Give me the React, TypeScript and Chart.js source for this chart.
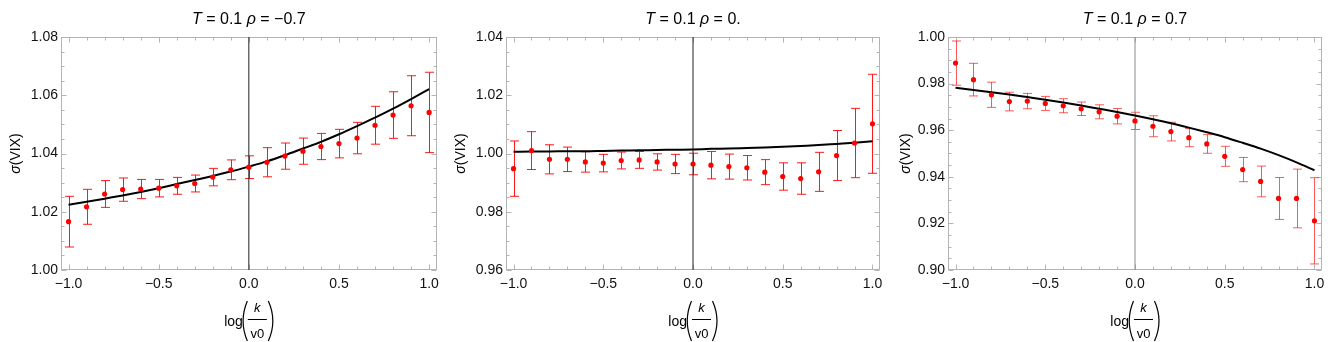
import React, { useEffect, useRef } from "react";
import { Chart, registerables } from "chart.js";

Chart.register(...registerables);

const FONT = "'Liberation Sans', Arial, sans-serif";

// ---------- data ----------
const xValues = [-1.0, -0.9, -0.8, -0.7, -0.6, -0.5, -0.4, -0.3, -0.2, -0.1, 0.0, 0.1, 0.2, 0.3, 0.4, 0.5, 0.6, 0.7, 0.8, 0.9, 1.0];
const xTickValues = [-1.0, -0.5, 0.0, 0.5, 1.0];
const xTickLabels = ["−1.0", "−0.5", "0.0", "0.5", "1.0"];

const titleT = "0.1";
const rhoLabels = ["−0.7", "0.", "0.7"];

// rho = -0.7
const sigmaNeg = [1.0166, 1.0217, 1.0261, 1.0276, 1.0278, 1.0281, 1.0289, 1.0297, 1.0319, 1.0344, 1.0353, 1.0370, 1.0391, 1.0408, 1.0424, 1.0434, 1.0453, 1.0497, 1.0532, 1.0564, 1.0541];
const errNeg = [0.0087, 0.0060, 0.0046, 0.0040, 0.0033, 0.0030, 0.0029, 0.0029, 0.0030, 0.0034, 0.0039, 0.0050, 0.0045, 0.0045, 0.0045, 0.0049, 0.0054, 0.0065, 0.0080, 0.0103, 0.0138];
const modelNeg = [1.0224, 1.0234, 1.0245, 1.0256, 1.0268, 1.0281, 1.0295, 1.0309, 1.0323, 1.0338, 1.0355, 1.0373, 1.0394, 1.0417, 1.0440, 1.0466, 1.0494, 1.0523, 1.0554, 1.0587, 1.0621];
const yTicksNeg = [1.0, 1.02, 1.04, 1.06, 1.08];

// rho = 0
const sigmaZero = [0.9948, 1.0010, 0.9980, 0.9980, 0.9971, 0.9967, 0.9976, 0.9978, 0.9971, 0.9964, 0.9964, 0.9960, 0.9955, 0.9951, 0.9936, 0.9921, 0.9914, 0.9937, 0.9993, 1.0036, 1.0102];
const errZero = [0.0095, 0.0065, 0.0050, 0.0042, 0.0035, 0.0030, 0.0029, 0.0029, 0.0028, 0.0033, 0.0037, 0.0047, 0.0043, 0.0042, 0.0043, 0.0047, 0.0054, 0.0067, 0.0086, 0.0119, 0.0170];
const modelZero = [1.0006, 1.0007, 1.0007, 1.0008, 1.0008, 1.0009, 1.0010, 1.0011, 1.0012, 1.0013, 1.0014, 1.0016, 1.0017, 1.0019, 1.0021, 1.0023, 1.0026, 1.0029, 1.0033, 1.0037, 1.0042];
const yTicksZero = [0.96, 0.98, 1.0, 1.02, 1.04];

// rho = 0.7
const sigmaPos = [0.9888, 0.9817, 0.9752, 0.9723, 0.9725, 0.9715, 0.9705, 0.9692, 0.9679, 0.9660, 0.9640, 0.9617, 0.9594, 0.9568, 0.9541, 0.9488, 0.9431, 0.9380, 0.9307, 0.9307, 0.9211];
const errPos = [0.0095, 0.0070, 0.0054, 0.0040, 0.0033, 0.0030, 0.0030, 0.0029, 0.0030, 0.0033, 0.0037, 0.0045, 0.0040, 0.0039, 0.0040, 0.0043, 0.0052, 0.0066, 0.0090, 0.0126, 0.0185];
const modelPos = [0.9782, 0.9773, 0.9763, 0.9753, 0.9742, 0.9731, 0.9719, 0.9706, 0.9692, 0.9678, 0.9663, 0.9647, 0.9630, 0.9611, 0.9591, 0.9570, 0.9546, 0.9521, 0.9493, 0.9462, 0.9428];
const yTicksPos = [0.9, 0.92, 0.94, 0.96, 0.98, 1.0];

// ---------- panel configuration ----------
type PanelCfg = {
  rho: string;
  sigma: number[];
  err: number[];
  model: number[];
  yTicks: number[];
  offset: number;
  axisWidth: number;
  padRight: number;
  errColor: string;
  vColor: string;
};

const panels: PanelCfg[] = [
  { rho: rhoLabels[0], sigma: sigmaNeg, err: errNeg, model: modelNeg, yTicks: yTicksNeg, offset: 0, axisWidth: 61, padRight: 8, errColor: "rgba(255,0,0,0.9)", vColor: "#222" },
  { rho: rhoLabels[1], sigma: sigmaZero, err: errZero, model: modelZero, yTicks: yTicksZero, offset: 445, axisWidth: 61, padRight: 10, errColor: "rgba(255,0,0,0.9)", vColor: "#222" },
  { rho: rhoLabels[2], sigma: sigmaPos, err: errPos, model: modelPos, yTicks: yTicksPos, offset: 890, axisWidth: 58, padRight: 13, errColor: "rgba(255,20,20,0.7)", vColor: "#888" },
];

const X_MIN = -1.042;
const X_MAX = 1.042;
const W = 445;
const H = 342;

function drawSegments(ctx: CanvasRenderingContext2D, segs: { t: string; it: boolean }[], size: number, cx: number, cy: number) {
  let total = 0;
  const widths = segs.map((s) => {
    ctx.font = (s.it ? "italic " : "") + size + "px " + FONT;
    const w = ctx.measureText(s.t).width;
    total += w;
    return w;
  });
  let x = cx - total / 2;
  ctx.textAlign = "left";
  ctx.textBaseline = "middle";
  segs.forEach((s, i) => {
    ctx.font = (s.it ? "italic " : "") + size + "px " + FONT;
    ctx.fillText(s.t, x, cy);
    x += widths[i];
  });
}

function makeDecor(cfg: PanelCfg) {
  return {
    id: "decor",
    beforeDatasetsDraw(chart: any) {
      const ctx = chart.ctx as CanvasRenderingContext2D;
      const xs = chart.scales.x;
      const ys = chart.scales.y;
      const { left, right, top, bottom } = chart.chartArea;
      ctx.save();
      // frame
      const L = Math.round(left) + 0.5;
      const R = Math.round(right) - 0.5;
      const T = Math.round(top) + 0.5;
      const B = Math.round(bottom) - 0.5;
      ctx.strokeStyle = "#b4b4b4";
      ctx.lineWidth = 1;
      ctx.strokeRect(L, T, R - L, B - T);
      ctx.beginPath();
      // x ticks
      for (let k = -10; k <= 10; k++) {
        const v = k / 10;
        const len = k % 5 === 0 ? 5 : 3;
        const px = Math.round(xs.getPixelForValue(v)) + 0.5;
        ctx.moveTo(px, B);
        ctx.lineTo(px, B - len);
        ctx.moveTo(px, T);
        ctx.lineTo(px, T + len);
      }
      // y ticks
      const yMin = cfg.yTicks[0];
      const yMax = cfg.yTicks[cfg.yTicks.length - 1];
      const nMinor = Math.round((yMax - yMin) / 0.005);
      for (let k = 0; k <= nMinor; k++) {
        const v = yMin + k * 0.005;
        const len = k % 4 === 0 ? 5 : 3;
        const py = Math.round(ys.getPixelForValue(v)) + 0.5;
        ctx.moveTo(L, py);
        ctx.lineTo(L + len, py);
        ctx.moveTo(R, py);
        ctx.lineTo(R - len, py);
      }
      ctx.stroke();

      // error bars
      ctx.beginPath();
      ctx.rect(left, top, right - left, bottom - top);
      ctx.clip();
      ctx.strokeStyle = cfg.errColor;
      ctx.lineWidth = 1;
      ctx.beginPath();
      xValues.forEach((xv, i) => {
        const px = Math.round(xs.getPixelForValue(xv)) + 0.5;
        const yt = ys.getPixelForValue(cfg.sigma[i] + cfg.err[i]);
        const yb = ys.getPixelForValue(cfg.sigma[i] - cfg.err[i]);
        ctx.moveTo(px, yt);
        ctx.lineTo(px, yb);
        ctx.moveTo(px - 4.5, yt);
        ctx.lineTo(px + 4.5, yt);
        ctx.moveTo(px - 4.5, yb);
        ctx.lineTo(px + 4.5, yb);
      });
      ctx.stroke();
      ctx.restore();
    },
    afterDraw(chart: any) {
      const ctx = chart.ctx as CanvasRenderingContext2D;
      const { left, right, top, bottom } = chart.chartArea;
      const cx = (left + right) / 2;
      const cy = (top + bottom) / 2;
      ctx.save();
      ctx.fillStyle = "#000";
      // title
      drawSegments(
        ctx,
        [
          { t: "T", it: true },
          { t: " = " + titleT + " ", it: false },
          { t: "ρ", it: true },
          { t: " = " + cfg.rho, it: false },
        ],
        16,
        cx,
        20
      );
      // y label
      ctx.save();
      ctx.translate(16, cy);
      ctx.rotate(-Math.PI / 2);
      drawSegments(
        ctx,
        [
          { t: "σ", it: true },
          { t: "(VIX)", it: false },
        ],
        14,
        0,
        0
      );
      ctx.restore();
      // x label: log(k / v0)
      ctx.textBaseline = "alphabetic";
      ctx.font = "14px " + FONT;
      ctx.textAlign = "right";
      ctx.fillText("log", cx - 6, 326);
      ctx.textAlign = "center";
      ctx.font = "italic 13px " + FONT;
      ctx.fillText("k", cx + 8.5, 312);
      ctx.font = "13px " + FONT;
      ctx.fillText("v0", cx + 8.5, 337.5);
      ctx.strokeStyle = "#000";
      ctx.lineWidth = 1;
      ctx.beginPath();
      ctx.moveTo(cx - 1, 319.5);
      ctx.lineTo(cx + 18, 319.5);
      ctx.stroke();
      ctx.lineWidth = 1.2;
      ctx.beginPath();
      ctx.moveTo(cx - 1.5, 301);
      ctx.quadraticCurveTo(cx - 10, 321, cx - 1.5, 341);
      ctx.moveTo(cx + 19.5, 301);
      ctx.quadraticCurveTo(cx + 28.5, 321, cx + 19.5, 341);
      ctx.stroke();
      ctx.restore();
    },
  };
}

function Panel({ cfg }: { cfg: PanelCfg }) {
  const ref = useRef<HTMLCanvasElement | null>(null);
  useEffect(() => {
    if (!ref.current) return;
    const yMin = cfg.yTicks[0];
    const yMax = cfg.yTicks[cfg.yTicks.length - 1];
    const chart = new Chart(ref.current, {
      type: "scatter",
      data: {
        datasets: [
          {
            type: "scatter",
            data: xValues.map((x, i) => ({ x, y: cfg.sigma[i] })),
            pointRadius: 2.6,
            pointBackgroundColor: "#ff0000",
            pointBorderWidth: 0,
            showLine: false,
            order: 0,
          } as any,
          {
            type: "line",
            data: xValues.map((x, i) => ({ x, y: cfg.model[i] })),
            borderColor: "#000",
            borderWidth: 2,
            pointRadius: 0,
            showLine: true,
            fill: false,
            cubicInterpolationMode: "monotone",
            order: 1,
          } as any,
          {
            type: "line",
            data: [
              { x: 0, y: yMin },
              { x: 0, y: yMax },
            ],
            borderColor: cfg.vColor,
            borderWidth: 1,
            pointRadius: 0,
            showLine: true,
            fill: false,
            order: 2,
          } as any,
        ],
      },
      options: {
        animation: false,
        responsive: false,
        maintainAspectRatio: false,
        devicePixelRatio: 1,
        layout: { padding: { left: 0, right: cfg.padRight, top: 37, bottom: 0 } },
        plugins: {
          legend: { display: false },
          tooltip: { enabled: false },
          title: { display: false },
        },
        scales: {
          x: {
            type: "linear",
            min: X_MIN,
            max: X_MAX,
            grid: { display: false, drawTicks: false },
            border: { display: false },
            ticks: {
              font: { family: FONT, size: 14 },
              color: "#111",
              padding: 6,
              maxRotation: 0,
              autoSkip: false,
              callback: (v: any) => {
                const idx = xTickValues.findIndex((t) => Math.abs(t - Number(v)) < 1e-9);
                return idx >= 0 ? xTickLabels[idx] : "";
              },
            },
            afterBuildTicks: (s: any) => {
              s.ticks = xTickValues.map((v) => ({ value: v }));
            },
            afterFit: (s: any) => {
              s.height = 72;
            },
          },
          y: {
            type: "linear",
            min: yMin,
            max: yMax,
            grid: { display: false, drawTicks: false },
            border: { display: false },
            ticks: {
              font: { family: FONT, size: 14 },
              color: "#111",
              padding: 3,
              autoSkip: false,
              callback: (v: any) => Number(v).toFixed(2),
            },
            afterBuildTicks: (s: any) => {
              s.ticks = cfg.yTicks.map((v) => ({ value: v }));
            },
            afterFit: (s: any) => {
              s.width = cfg.axisWidth;
            },
          },
        },
      } as any,
      plugins: [makeDecor(cfg)],
    });
    return () => chart.destroy();
  }, [cfg]);
  return (
    <canvas
      ref={ref}
      width={W}
      height={H}
      style={{ position: "absolute", left: cfg.offset, top: 0, width: W, height: H }}
    />
  );
}

export default function App() {
  return (
    <div style={{ position: "fixed", left: 0, top: 0, width: 1335, height: 342, background: "#fff" }}>
      {panels.map((p, i) => (
        <Panel key={i} cfg={p} />
      ))}
    </div>
  );
}
